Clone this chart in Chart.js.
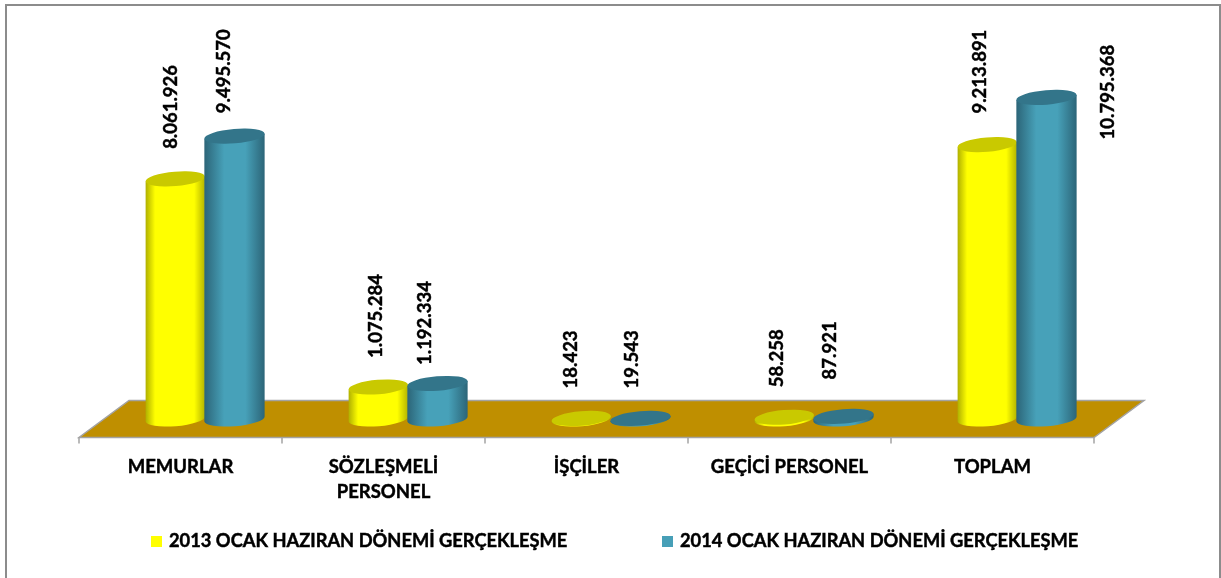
<!DOCTYPE html>
<html><head><meta charset="utf-8">
<style>html,body{margin:0;padding:0;background:#fff}canvas{display:block}</style>
<script src="https://cdn.jsdelivr.net/npm/chart.js@4"></script>
</head><body><canvas id="c" width="1221" height="578"></canvas>
<script>
const categories = ['MEMURLAR', ['SÖZLEŞMELİ','PERSONEL'], 'İŞÇİLER', 'GEÇİCİ PERSONEL', 'TOPLAM'];
const series2013Label = '2013 OCAK HAZIRAN DÖNEMİ GERÇEKLEŞME';
const series2014Label = '2014 OCAK HAZIRAN DÖNEMİ GERÇEKLEŞME';
const series2013 = [8061926, 1075284, 18423, 58258, 9213891];
const series2014 = [9495570, 1192334, 19543, 87921, 10795368];

// Hand-placed data label offsets from the top of each bar, as in the reference
const labelDx = [[-5,-3,-11,-8,-8],[-11,-13,-9,-14,61]];
const labelGap = [[30,29,30,30,31],[23,18.5,30,37,-42]];
const FONT = 'Lato, "Open Sans", sans-serif';
const faces = [
  {left:'#b0b000', mid:'#ffff00', right:'#b4b400', top:'#c9c900', stops:[0,.16,.82,1], dx:-0.5, dr:0},
  {left:'#2c6578', mid:'#47a1b9', right:'#2c6578', top:'#33758a', stops:[0,.33,.68,1], dx:-0.75, dr:0.5}
];
const fmt = v => String(v).replace(/\B(?=(\d{3})+$)/g,'.');

const scene = {
  id:'scene',
  beforeDatasetsDraw(chart){
    const {ctx, scales:{x}} = chart;
    const step = x.getPixelForValue(1) - x.getPixelForValue(0);
    const depthX = 25, depthY = 18;
    const baseY = chart.chartArea.bottom;
    const fl = x.left - depthX, fr = x.right - depthX;
    const fy = baseY + depthY + 0.5, by = baseY - depthY - 0.5;
    ctx.save();
    // chart frame
    ctx.strokeStyle = '#8c8c8c'; ctx.lineWidth = 2;
    ctx.beginPath(); ctx.moveTo(6,578); ctx.lineTo(6,5); ctx.lineTo(1220,5); ctx.lineTo(1220,578); ctx.stroke();
    // floor
    ctx.beginPath(); ctx.moveTo(fl,fy); ctx.lineTo(fr,fy); ctx.lineTo(fr+2*depthX,by); ctx.lineTo(fl+2*depthX,by); ctx.closePath();
    ctx.fillStyle = '#bf8f00'; ctx.fill();
    ctx.strokeStyle = '#a3a3a3'; ctx.lineWidth = 1.5; ctx.stroke();
    for(let i=0;i<=categories.length;i++){
      const tx = fl + i*step;
      ctx.beginPath(); ctx.moveTo(tx,fy); ctx.lineTo(tx,fy+6); ctx.stroke();
    }
    // cylinders
    const tilt = -4.8*Math.PI/180;
    chart.data.datasets.forEach((ds,di)=>{
      const f = faces[di];
      chart.getDatasetMeta(di).data.forEach(el=>{
        const cx = el.x+f.dx, rx = el.width/2+f.dr, ry = 7.2, top = el.y, base = el.base;
        const ox = rx*Math.cos(tilt), oy = rx*Math.sin(tilt);
        const g = ctx.createLinearGradient(cx-ox,0,cx+ox,0);
        g.addColorStop(f.stops[0],f.left); g.addColorStop(f.stops[1],f.mid);
        g.addColorStop(f.stops[2],f.mid); g.addColorStop(f.stops[3],f.right);
        ctx.fillStyle = g;
        ctx.beginPath();
        ctx.moveTo(cx-ox,top-oy);
        ctx.lineTo(cx-ox,base-oy);
        ctx.ellipse(cx,base,rx,ry,tilt,Math.PI,0,true);
        ctx.lineTo(cx+ox,top+oy);
        ctx.closePath(); ctx.fill();
        ctx.fillStyle = f.top;
        ctx.beginPath(); ctx.ellipse(cx,top,rx,ry,tilt,0,Math.PI*2); ctx.fill();
      });
    });
    ctx.restore();
    return false;
  },
  afterDraw(chart){
    const {ctx} = chart;
    const boldText = (t,x,y)=>{ctx.fillText(t,x,y);ctx.strokeText(t,x,y);};
    ctx.save();
    ctx.fillStyle = '#000'; ctx.strokeStyle = '#000'; ctx.lineWidth = 0.45;
    // rotated value labels
    ctx.font = '700 18.5px '+FONT; ctx.textAlign='left'; ctx.textBaseline='middle';
    chart.data.datasets.forEach((ds,di)=>{
      chart.getDatasetMeta(di).data.forEach((el,i)=>{
        ctx.save();
        ctx.translate(el.x+labelDx[di][i], el.y-labelGap[di][i]);
        ctx.rotate(-Math.PI/2);
        boldText(fmt(ds.data[i]),0,0);
        ctx.restore();
      });
    });
    // legend
    const legendX = [151,662];
    ctx.font = '700 18.3px '+FONT;
    chart.data.datasets.forEach((ds,di)=>{
      ctx.fillStyle = ds.backgroundColor;
      ctx.fillRect(legendX[di],536,11,11);
      ctx.fillStyle = '#000';
      boldText(ds.label,legendX[di]+18,541.5);
    });
    ctx.restore();
  }
};

new Chart(document.getElementById('c'),{
  type:'bar',
  data:{labels:categories,datasets:[
    {label:series2013Label,data:series2013,backgroundColor:'#ffff00'},
    {label:series2014Label,data:series2014,backgroundColor:'#479fb7'}
  ]},
  options:{
    responsive:false,animation:false,devicePixelRatio:1,
    layout:{padding:{left:104,right:102,top:2,bottom:0}},
    datasets:{bar:{barPercentage:1,categoryPercentage:0.586}},
    plugins:{legend:{display:false},tooltip:{enabled:false},title:{display:false}},
    scales:{
      x:{
        grid:{display:false},border:{display:false},
        ticks:{color:'#000',textStrokeColor:'#000',textStrokeWidth:0.45,font:{family:FONT,weight:'700',size:18.5,lineHeight:1.35},padding:28,labelOffset:-25,maxRotation:0,minRotation:0,autoSkip:false},
        afterFit(s){s.height=159;}
      },
      y:{display:false,min:0,max:14000000}
    }
  },
  plugins:[scene]
});
</script></body></html>
